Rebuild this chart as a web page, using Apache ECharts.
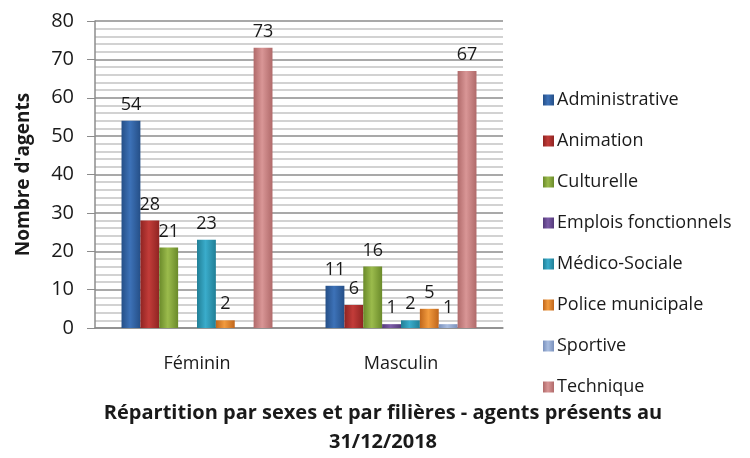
<!DOCTYPE html>
<html>
<head>
<meta charset="utf-8">
<script src="https://cdn.jsdelivr.net/npm/echarts@6/dist/echarts.min.js"></script>
<style>
    html, body { margin: 0; padding: 0; background: #fff; }
    #chart { width: 750px; height: 458px; }
</style>
</head>
<body>
<div id="chart"></div>
<script>
var categories = ['Féminin', 'Masculin'];
var filieres = ['Administrative', 'Animation', 'Culturelle', 'Emplois fonctionnels',
    'Médico-Sociale', 'Police municipale', 'Sportive', 'Technique'];
var administrative = [54, 11];
var animation = [28, 6];
var culturelle = [21, 16];
var emploisFonctionnels = [null, 1];
var medicoSociale = [23, 2];
var policeMunicipale = [2, 5];
var sportive = [null, 1];
var technique = [73, 67];
var yTicks = [0, 10, 20, 30, 40, 50, 60, 70, 80];

var valeurs = [administrative, animation, culturelle, emploisFonctionnels,
    medicoSociale, policeMunicipale, sportive, technique];
// couleurs : bord, centre
var couleurs = [
    ['#254f87', '#3d72b8'],
    ['#8f2422', '#c23c39'],
    ['#6a8a2a', '#9bbb4c'],
    ['#543a7a', '#7d5ca8'],
    ['#217f96', '#3aaccb'],
    ['#c0661b', '#f29b3e'],
    ['#7a91bd', '#a9bde0'],
    ['#b06a6a', '#d99696']
];
var police = 'Open Sans';

function degrade(c) {
    return new echarts.graphic.LinearGradient(0, 0, 1, 0, [
        { offset: 0, color: c[0] },
        { offset: 0.45, color: c[1] },
        { offset: 1, color: c[0] }
    ]);
}

var myChart = echarts.init(document.getElementById('chart'));
var series = [];
for (var i = 0; i < filieres.length; i++) {
    series.push({
        name: filieres[i],
        type: 'bar',
        data: valeurs[i],
        barGap: '0%',
        barCategoryGap: '26%',
        itemStyle: { color: degrade(couleurs[i]) },
        label: {
            show: true,
            position: 'top',
            distance: 7,
            color: '#1a1a1a',
            fontFamily: police,
            fontSize: 18
        }
    });
}

var option = {
    animation: false,
    backgroundColor: '#fff',
    title: {
        text: 'Répartition par sexes et par filières - agents présents au\n31/12/2018',
        left: 378,
        top: 394,
        textAlign: 'center',
        textStyle: {
            fontFamily: police,
            fontWeight: 'bold',
            fontSize: 20,
            lineHeight: 29,
            color: '#1a1a1a'
        }
    },
    legend: {
        orient: 'vertical',
        left: 538,
        top: 86,
        itemWidth: 11,
        itemHeight: 11,
        itemGap: 23,
        icon: 'rect',
        textStyle: { fontFamily: police, fontSize: 18, color: '#1a1a1a', padding: [0, 0, 0, -2] },
        data: filieres
    },
    grid: { left: 95, right: 247, top: 21, bottom: 130 },
    xAxis: {
        type: 'category',
        data: categories,
        axisLine: { lineStyle: { color: '#8c8c8c', width: 1.5 } },
        axisTick: { show: false },
        axisLabel: { margin: 27, fontFamily: police, fontSize: 18, color: '#1a1a1a' }
    },
    yAxis: {
        type: 'value',
        min: yTicks[0],
        max: yTicks[yTicks.length - 1],
        interval: 10,
        name: "Nombre d'agents",
        nameLocation: 'middle',
        nameGap: 62,
        nameTextStyle: { fontFamily: police, fontWeight: 'bold', fontSize: 19, color: '#1a1a1a' },
        axisLine: { show: true, lineStyle: { color: '#8c8c8c', width: 1.5 } },
        axisTick: { show: true, inside: false, length: 8, lineStyle: { color: '#8c8c8c' } },
        axisLabel: { margin: 21, fontFamily: police, fontSize: 20, color: '#1a1a1a' },
        splitLine: { lineStyle: { color: '#8c8c8c', width: 1.5 } },
        minorTick: { show: false, splitNumber: 5 },
        minorSplitLine: { show: true, lineStyle: { color: '#c4c4c4', width: 1.5 } }
    },
    series: series
};
myChart.setOption(option);
</script>
</body>
</html>
